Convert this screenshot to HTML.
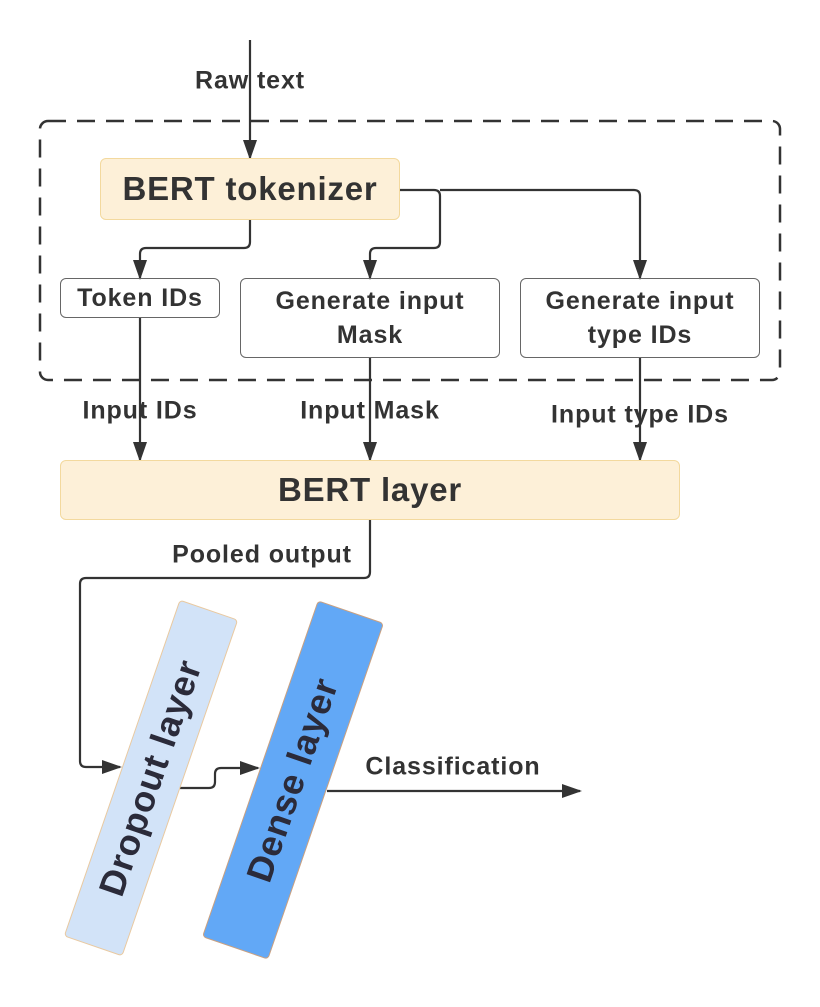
<!DOCTYPE html>
<html><head><style>
body{margin:0;background:#fff;width:820px;height:1007px;overflow:hidden;position:relative;font-family:"Liberation Sans",sans-serif;font-weight:bold;color:#333}
.b{position:absolute;box-sizing:border-box;display:flex;align-items:center;justify-content:center;text-align:center;border-radius:6px}
.l{position:absolute;font-size:25px;letter-spacing:0.9px;white-space:nowrap;transform:translate(-50%,-50%)}
.r{position:absolute;box-sizing:border-box;display:flex;align-items:center;justify-content:center;border-radius:4px}
.r span{transform:rotate(-90deg);white-space:nowrap;font-size:36px;letter-spacing:1px;color:#2b2b3a}
</style></head><body>
<svg width="820" height="1007" style="position:absolute;left:0;top:0">
<defs><marker id="h" markerWidth="20" markerHeight="14" refX="18" refY="7" orient="auto" markerUnits="userSpaceOnUse"><path d="M0,0 L20,7 L0,14 z" fill="#333"/></marker></defs>
<rect x="40" y="121" width="740" height="259" rx="8" fill="none" stroke="#333" stroke-width="2.5" stroke-dasharray="18,11"/>
<g fill="none" stroke="#333" stroke-width="2.2" marker-end="url(#h)">
<path d="M250,40 V158"/>
<path d="M250,220 V242 Q250,248 244,248 H146 Q140,248 140,254 V278"/>
<path d="M400,190 H434 Q440,190 440,196 V242 Q440,248 434,248 H376 Q370,248 370,254 V278"/>
<path d="M440,190 H634 Q640,190 640,196 V278"/>
<path d="M140,318 V460"/>
<path d="M370,358 V460"/>
<path d="M640,358 V460"/>
<path d="M370,520 V572 Q370,578 364,578 H86 Q80,578 80,584 V761 Q80,767 86,767 H120"/>
<path d="M180,788 H209 Q215,788 215,782 V774 Q215,768 221,768 H258"/>
<path d="M327,791 H580"/>
</g>
</svg>
<div class="b" style="left:100px;top:158px;width:300px;height:62px;background:#fdf0d8;border:1.5px solid #f3d99e;font-size:33px;letter-spacing:0.8px">BERT tokenizer</div>
<div class="b" style="left:60px;top:278px;width:160px;height:40px;border:1.5px solid #666;font-size:25px;letter-spacing:0.9px">Token IDs</div>
<div class="b" style="left:240px;top:278px;width:260px;height:80px;border:1.5px solid #666;font-size:25px;letter-spacing:0.9px;line-height:34px">Generate input<br>Mask</div>
<div class="b" style="left:520px;top:278px;width:240px;height:80px;border:1.5px solid #666;font-size:25px;letter-spacing:0.9px;line-height:34px">Generate input<br>type IDs</div>
<div class="b" style="left:60px;top:460px;width:620px;height:60px;background:#fdf0d8;border:1.5px solid #f3d99e;font-size:33px;letter-spacing:0.8px">BERT layer</div>
<div class="l" style="left:250px;top:81px">Raw text</div>
<div class="l" style="left:140px;top:411px">Input IDs</div>
<div class="l" style="left:370px;top:411px">Input Mask</div>
<div class="l" style="left:640px;top:415px">Input type IDs</div>
<div class="l" style="left:262px;top:555px">Pooled output</div>
<div class="l" style="left:453px;top:767px">Classification</div>
<div class="r" style="left:120px;top:600px;width:62px;height:356px;background:#d2e3f8;border:1.5px solid #e9c9a0;transform:rotate(19deg)"><span>Dropout layer</span></div>
<div class="r" style="left:258px;top:602px;width:70px;height:356px;background:#62a8f6;border:1.5px solid #c9a080;transform:rotate(19deg)"><span>Dense layer</span></div>
</body></html>
